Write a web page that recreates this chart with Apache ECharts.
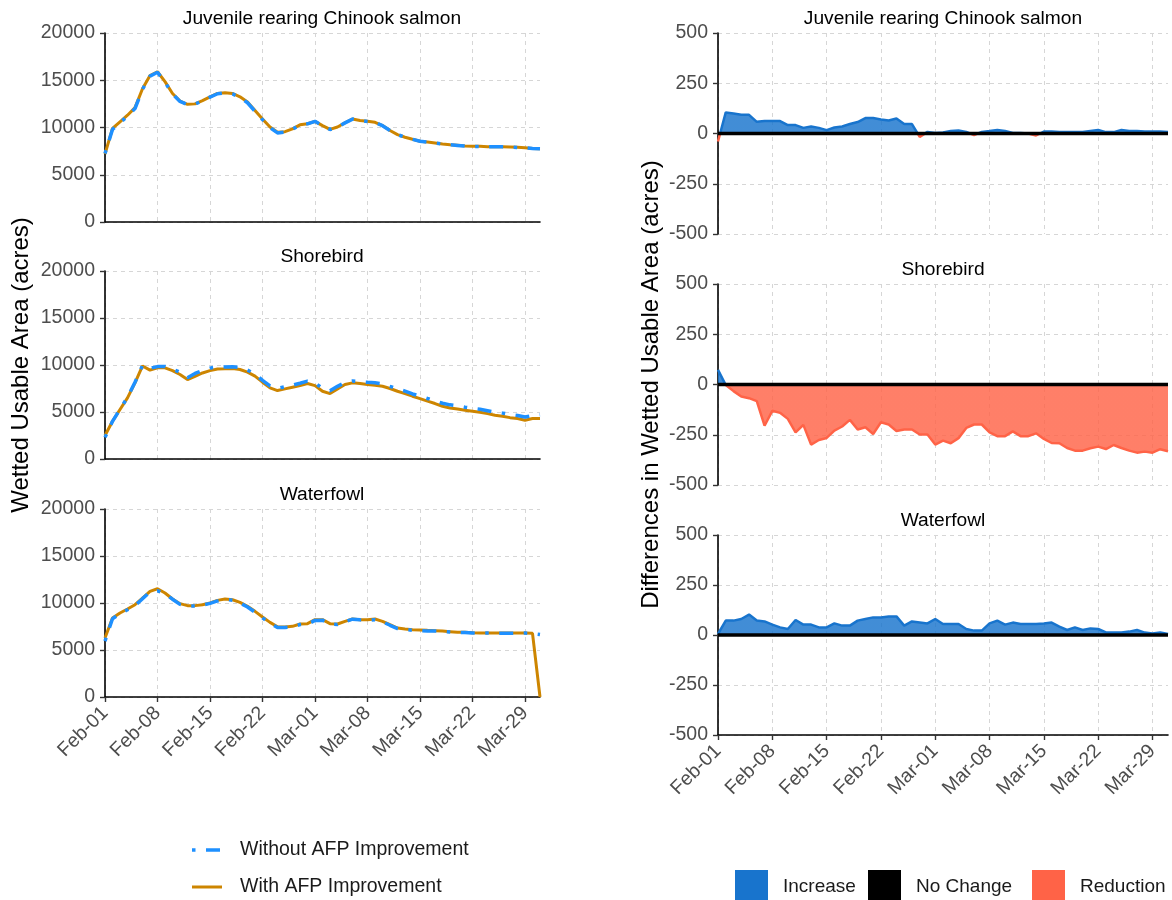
<!DOCTYPE html>
<html>
<head>
<meta charset="utf-8">
<title>Wetted Usable Area</title>
<script src="https://cdn.jsdelivr.net/npm/echarts@6/dist/echarts.min.js"></script>
<style>
  html, body { margin: 0; padding: 0; background: #ffffff; }
  #chart { width: 1172px; height: 900px; }
</style>
</head>
<body>
<div id="chart"></div>
<script>
// Day index 0 = Feb-01 ... 58 = Mar-31
const xTickLabels = ['Feb-01', 'Feb-08', 'Feb-15', 'Feb-22', 'Mar-01', 'Mar-08', 'Mar-15', 'Mar-22', 'Mar-29'];
const tickDays = [0, 7, 14, 21, 28, 35, 42, 49, 56];
const panelTitles = ['Juvenile rearing Chinook salmon', 'Shorebird', 'Waterfowl'];
const yTitleLeft = 'Wetted Usable Area (acres)';
const yTitleRight = 'Differences in Wetted Usable Area (acres)';
const lineNames = ['Without AFP Improvement', 'With AFP Improvement'];
const changeNames = ['Increase', 'No Change', 'Reduction'];

// Wetted usable area (acres), daily
const chinookWithout = [7240, 9800, 10500, 11210, 12010, 14040, 15440, 15840, 14790, 13560, 12760, 12420, 12470, 12830, 13220, 13570, 13650, 13550, 13190, 12620, 11720, 10830, 9980, 9430, 9510, 9800, 10300, 10390, 10650, 10190, 9790, 10040, 10490, 10890, 10740, 10640, 10530, 10190, 9680, 9250, 8970, 8750, 8540, 8460, 8360, 8250, 8170, 8100, 8030, 8000, 8000, 7950, 7960, 7950, 7930, 7890, 7850, 7780, 7750];
const chinookWith = [7200, 9900, 10600, 11300, 12100, 14100, 15500, 15900, 14850, 13600, 12800, 12450, 12500, 12850, 13250, 13600, 13680, 13600, 13250, 12700, 11800, 10900, 10050, 9500, 9560, 9850, 10280, 10400, 10650, 10200, 9800, 10050, 10500, 10900, 10750, 10650, 10550, 10200, 9680, 9250, 8970, 8750, 8550, 8470, 8370, 8260, 8180, 8110, 8040, 8010, 8010, 7970, 7970, 7970, 7940, 7900, 7860, 7790, 7760];

const shorebirdWithout = [2300, 4010, 5290, 6560, 8170, 9950, 9650, 9830, 9840, 9570, 9230, 8650, 9100, 9430, 9670, 9810, 9800, 9810, 9740, 9450, 9060, 8360, 7770, 7510, 7680, 7860, 8060, 8280, 8110, 7490, 7250, 7730, 8140, 8300, 8230, 8160, 8110, 8000, 7730, 7470, 7220, 6920, 6700, 6440, 6190, 5930, 5760, 5660, 5510, 5390, 5290, 5130, 4970, 4880, 4740, 4630, 4460, 4620, 4700];
const shorebirdWith = [2500, 4010, 5260, 6500, 8100, 9900, 9450, 9700, 9700, 9400, 8990, 8450, 8800, 9150, 9400, 9580, 9590, 9630, 9520, 9240, 8810, 8170, 7570, 7280, 7460, 7640, 7810, 8030, 7810, 7210, 6960, 7460, 7920, 8100, 8030, 7920, 7850, 7740, 7500, 7210, 6960, 6680, 6430, 6150, 5900, 5610, 5430, 5330, 5190, 5080, 4970, 4830, 4650, 4550, 4400, 4300, 4120, 4300, 4300];

const waterfowlWithout = [5950, 8330, 8870, 9280, 9720, 10460, 11170, 11300, 11020, 10400, 9855, 9670, 9670, 9780, 9960, 10220, 10380, 10300, 10000, 9570, 9020, 8420, 7850, 7390, 7400, 7450, 7710, 7740, 8150, 8175, 7745, 7715, 8020, 8280, 8210, 8170, 8230, 8000, 7630, 7285, 7175, 7105, 7070, 7030, 7020, 6995, 6910, 6855, 6850, 6810, 6800, 6800, 6800, 6790, 6785, 6800, 6800, 6760, 6650];
const waterfowlWith = [6280, 8400, 8940, 9360, 9820, 10530, 11240, 11520, 11060, 10430, 9930, 9720, 9720, 9820, 10000, 10280, 10430, 10350, 10070, 9650, 9110, 8510, 7940, 7480, 7450, 7520, 7770, 7800, 8230, 8230, 7800, 7770, 8050, 8300, 8230, 8230, 8300, 8050, 7690, 7340, 7230, 7160, 7130, 7090, 7060, 7020, 6950, 6880, 6880, 6840, 6810, 6810, 6810, 6810, 6810, 6810, 6810, 6770, 0];

// Differences (with minus without), acres
const chinookDiff = [-40, 105, 100, 93, 93, 58, 62, 62, 62, 42, 42, 28, 35, 28, 17, 30, 35, 47, 57, 77, 77, 70, 65, 75, 47, 47, -17, 8, 3, 5, 12, 15, 8, -8, 8, 12, 17, 12, 3, 2, 0, -10, 10, 10, 8, 7, 7, 7, 13, 17, 7, 7, 17, 12, 13, 10, 10, 10, 8];
const shorebirdDiff = [73, -3, -33, -60, -68, -83, -205, -131, -141, -171, -238, -201, -299, -276, -266, -229, -209, -176, -224, -213, -246, -188, -199, -231, -224, -224, -249, -249, -299, -279, -292, -267, -216, -199, -199, -238, -257, -257, -233, -257, -257, -243, -271, -291, -292, -316, -329, -329, -317, -309, -321, -301, -316, -329, -339, -334, -339, -322, -332];
const waterfowlDiff = [5, 72, 72, 80, 102, 72, 68, 52, 38, 30, 75, 52, 52, 38, 38, 58, 47, 47, 72, 80, 88, 88, 93, 93, 47, 68, 63, 58, 80, 55, 55, 55, 30, 22, 22, 58, 72, 52, 62, 55, 55, 55, 58, 62, 42, 25, 38, 25, 33, 30, 13, 13, 13, 17, 25, 12, 8, 13, 5];

const withoutSets = [chinookWithout, shorebirdWithout, waterfowlWithout];
const withSets = [chinookWith, shorebirdWith, waterfowlWith];
const diffSets = [chinookDiff, shorebirdDiff, waterfowlDiff];

const AREA_MIN = 0, AREA_MAX = 20000, AREA_STEP = 5000;
const DIFF_MIN = -500, DIFF_MAX = 500, DIFF_STEP = 250;

const FONT = '"Liberation Sans", Arial, sans-serif';
const FS = 19.5;
const TITLE_FS = 19.2;
const BLUE_LINE = '#1E90FF';
const ORANGE_LINE = '#CD8500';
const INC = '#1874CD';
const RED = '#FF6347';
const GRID_COLOR = '#d6d6d6';
const TICK_COLOR = '#4D4D4D';

const toPoints = arr => arr.map((v, i) => [i, v]);

const grids = [
  { left: 105, top: 33, width: 435, height: 189 },
  { left: 105, top: 271, width: 435, height: 188 },
  { left: 105, top: 509, width: 435, height: 188 },
  { left: 718, top: 33, width: 450, height: 201 },
  { left: 718, top: 284, width: 450, height: 201 },
  { left: 718, top: 535, width: 450, height: 200 }
];

const splitLine = { show: true, lineStyle: { color: GRID_COLOR, width: 1, type: [4, 4] } };

const xAxes = grids.map((g, i) => {
  const bottom = (i === 2 || i === 5);
  const showLine = i < 3 || i === 5;
  return {
    gridIndex: i,
    type: 'value',
    min: 0,
    max: 58,
    axisLine: { show: showLine, onZero: false, lineStyle: { color: '#000', width: 1.6 } },
    axisTick: { show: bottom, length: 5, customValues: tickDays, lineStyle: { color: '#333', width: 1.4 } },
    axisLabel: {
      show: bottom,
      customValues: tickDays,
      rotate: 45,
      margin: 13,
      fontFamily: FONT,
      fontSize: FS,
      color: TICK_COLOR,
      formatter: v => xTickLabels[tickDays.indexOf(v)] || ''
    },
    splitLine: splitLine
  };
});

const yAxes = grids.map((g, i) => {
  const left = i < 3;
  const ax = {
    gridIndex: i,
    type: 'value',
    min: left ? AREA_MIN : DIFF_MIN,
    max: left ? AREA_MAX : DIFF_MAX,
    interval: left ? AREA_STEP : DIFF_STEP,
    axisLine: { show: true, onZero: false, lineStyle: { color: '#000', width: 1.6 } },
    axisTick: { show: true, length: 5, lineStyle: { color: '#333', width: 1.4 } },
    axisLabel: { fontFamily: FONT, fontSize: FS, color: TICK_COLOR, margin: 10, formatter: v => String(v) },
    splitLine: splitLine
  };
  if (i === 1 || i === 4) {
    ax.name = i === 1 ? yTitleLeft : yTitleRight;
    ax.nameLocation = 'middle';
    ax.nameGap = i === 1 ? 72 : 55;
    ax.nameTextStyle = { fontFamily: FONT, fontSize: 24, color: '#000' };
  }
  return ax;
});

const series = [];
for (let p = 0; p < 3; p++) {
  series.push({
    name: lineNames[1],
    type: 'line',
    xAxisIndex: p, yAxisIndex: p,
    data: toPoints(withSets[p]),
    showSymbol: false, symbol: 'none',
    lineStyle: { color: ORANGE_LINE, width: 3 },
    itemStyle: { color: ORANGE_LINE },
    z: 2
  });
  series.push({
    name: lineNames[0],
    type: 'line',
    xAxisIndex: p, yAxisIndex: p,
    data: toPoints(withoutSets[p]),
    showSymbol: false, symbol: 'none',
    lineStyle: { color: BLUE_LINE, width: 3.5, type: [3.5, 10.5, 14, 10.5] },
    itemStyle: { color: BLUE_LINE },
    z: 3
  });
}

// Blue above zero, red below zero: a vertical gradient pinned to the panel
function signGradient(g) {
  const zeroFrac = DIFF_MAX / (DIFF_MAX - DIFF_MIN);
  return {
    type: 'linear', global: true,
    x: 0, y: g.top, x2: 0, y2: g.top + g.height,
    colorStops: [
      { offset: 0, color: INC },
      { offset: zeroFrac, color: INC },
      { offset: zeroFrac, color: RED },
      { offset: 1, color: RED }
    ]
  };
}

for (let p = 0; p < 3; p++) {
  const g = grids[3 + p];
  series.push({
    name: panelTitles[p] + ' difference',
    type: 'line',
    xAxisIndex: 3 + p, yAxisIndex: 3 + p,
    data: toPoints(diffSets[p]),
    showSymbol: false, symbol: 'none',
    lineStyle: { width: 2.5, color: signGradient(g) },
    areaStyle: { opacity: 0.82, origin: 0, color: signGradient(g) },
    z: 2
  });
  series.push({
    name: changeNames[1],
    type: 'line',
    xAxisIndex: 3 + p, yAxisIndex: 3 + p,
    data: [[0, 0], [58, 0]],
    showSymbol: false, symbol: 'none',
    lineStyle: { color: '#000', width: 3.5 },
    silent: true,
    z: 5
  });
}

const titles = [];
for (let p = 0; p < 3; p++) {
  [322, 943].forEach((cx, side) => {
    titles.push({
      text: panelTitles[p],
      left: cx, top: grids[side * 3 + p].top - 24, textAlign: 'center', padding: 0,
      textStyle: { fontFamily: FONT, fontSize: TITLE_FS, fontWeight: 'normal', color: '#000' }
    });
  });
}

const graphics = [];
// Line legend
const lineKeyY = [850, 887];
graphics.push({
  type: 'line', shape: { x1: 192, y1: lineKeyY[0], x2: 222, y2: lineKeyY[0] },
  style: { stroke: BLUE_LINE, lineWidth: 3.5, lineDash: [3.5, 10.5, 14, 10.5] }
});
graphics.push({
  type: 'line', shape: { x1: 192, y1: lineKeyY[1], x2: 222, y2: lineKeyY[1] },
  style: { stroke: ORANGE_LINE, lineWidth: 3 }
});
lineNames.forEach((n, k) => {
  graphics.push({
    type: 'text', x: 240, y: lineKeyY[k],
    style: { text: n, font: FS + 'px ' + FONT, fill: '#1a1a1a', verticalAlign: 'middle' }
  });
});
// Change-class legend
const changeColors = [INC, '#000000', RED];
const changeX = [735, 868, 1032];
changeNames.forEach((n, k) => {
  graphics.push({
    type: 'rect', shape: { x: changeX[k], y: 870, width: 33, height: 34 },
    style: { fill: changeColors[k] }
  });
  graphics.push({
    type: 'text', x: changeX[k] + 48, y: 887,
    style: { text: n, font: '19px ' + FONT, fill: '#1a1a1a', verticalAlign: 'middle' }
  });
});

const option = {
  animation: false,
  backgroundColor: '#ffffff',
  title: titles,
  grid: grids,
  xAxis: xAxes,
  yAxis: yAxes,
  series: series,
  graphic: graphics
};

const chart = echarts.init(document.getElementById('chart'), null, { renderer: 'canvas' });
chart.setOption(option);
</script>
</body>
</html>
